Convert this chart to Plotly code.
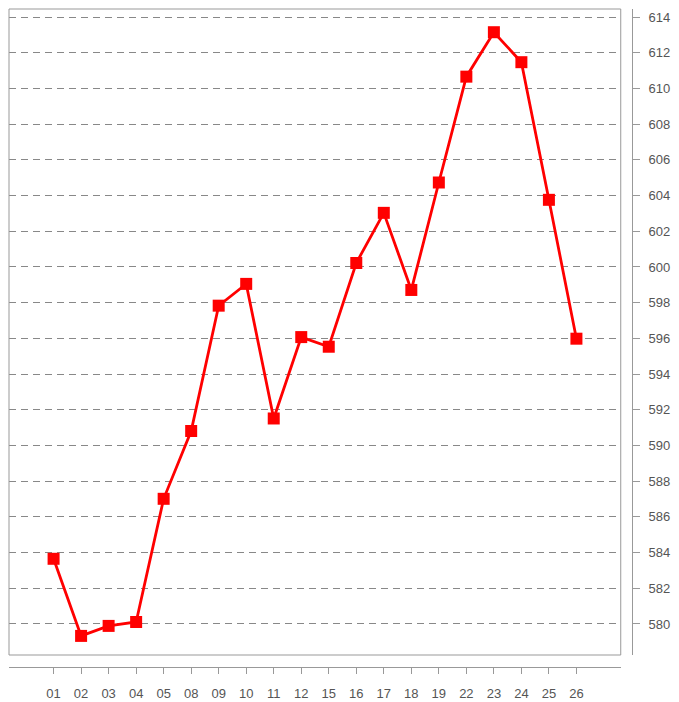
import plotly.graph_objects as go

categories = ["01", "02", "03", "04", "05", "08", "09", "10", "11", "12",
              "15", "16", "17", "18", "19", "22", "23", "24", "25", "26"]
values = [583.65, 579.33, 579.89, 580.11, 587.01, 590.81, 597.83, 599.05, 591.51, 596.07,
          595.53, 600.22, 603.03, 598.71, 604.73, 610.66, 613.15, 611.47, 603.76, 595.98]
ytick_vals = [580, 582, 584, 586, 588, 590, 592, 594, 596, 598, 600, 602, 604, 606, 608, 610, 612, 614]

W, H = 679, 710
ml, mr, mt, mb = 9, 45, 9, 43
pw = W - ml - mr
ph = H - mt - mb
xdom_end = (622.7 - ml) / pw
ydom_start = (667 - 655) / ph

fig = go.Figure()
fig.add_trace(go.Scatter(
    x=categories, y=values, mode="lines+markers",
    line=dict(color="#ff0000", width=2.8),
    marker=dict(symbol="square", size=12, color="#ff0000"),
    showlegend=False, cliponaxis=False,
))

axis_font = dict(family="Liberation Sans, Arial, sans-serif", size=13, color="#555555")

fig.update_layout(
    width=W, height=H,
    margin=dict(l=ml, r=mr, t=mt, b=mb, pad=0),
    paper_bgcolor="white", plot_bgcolor="white",
    xaxis=dict(
        type="category", domain=[0, xdom_end], anchor="free", position=0,
        range=[-1.62, 20.61], showgrid=False, zeroline=False,
        showline=True, linecolor="#999999", linewidth=1,
        ticks="outside", ticklen=6, tickcolor="#999999", tickwidth=1,
        tickfont=axis_font, ticklabelstandoff=8,
    ),
    yaxis=dict(
        domain=[ydom_start, 1], anchor="free", position=1, side="right",
        range=[578.26, 614.45], tickvals=ytick_vals,
        showgrid=True, gridcolor="#888888", gridwidth=1, griddash="7px,5px",
        zeroline=False, showline=True, linecolor="#999999", linewidth=1,
        ticks="outside", ticklen=7, tickcolor="#999999", tickwidth=1,
        tickfont=axis_font, ticklabelstandoff=6,
    ),
    shapes=[dict(type="rect", xref="paper", yref="paper",
                 x0=0, x1=xdom_end, y0=ydom_start, y1=1,
                 line=dict(color="#999999", width=1), layer="above")],
)

fig.write_html(
    "out.html",
    config={"displayModeBar": False, "staticPlot": True},
    post_script=(
        "var s=document.documentElement.style;s.margin='0';s.padding='0';"
        "s.overflow='hidden';"
        "var b=document.body.style;b.margin='0';b.padding='0';"
        "b.overflow='hidden';"
    ),
)
